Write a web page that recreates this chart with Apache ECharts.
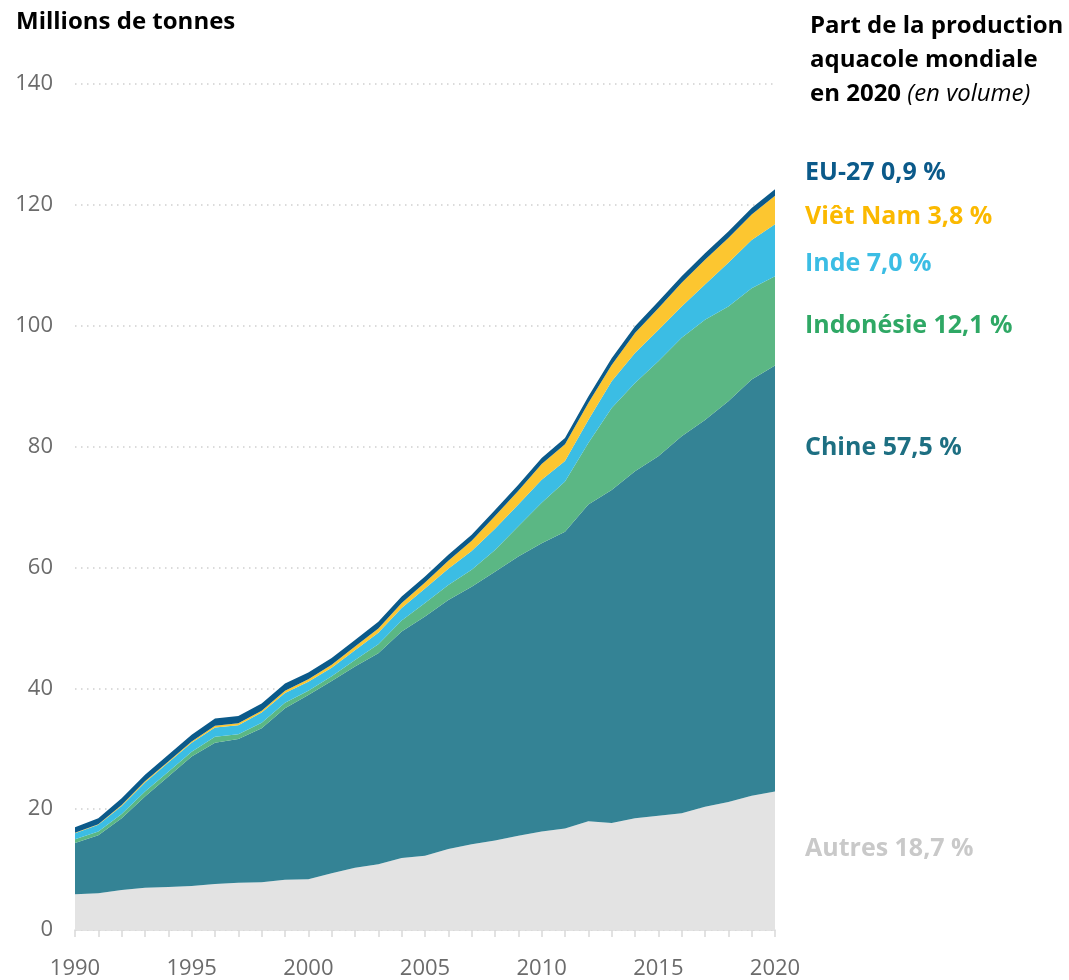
<!DOCTYPE html>
<html>
<head>
<meta charset="utf-8">
<script src="https://cdn.jsdelivr.net/npm/echarts@6/dist/echarts.min.js"></script>
<style>
  html, body { margin: 0; padding: 0; background: #ffffff; }
  #chart { width: 1069px; height: 980px; }
</style>
</head>
<body>
<div id="chart"></div>
<script>
// Aquaculture production by producer, millions of tonnes, 1990–2020
const years = [];
for (let y = 1990; y <= 2020; y++) years.push(String(y));

const autres = [5.9, 6.1, 6.6, 7.0, 7.1, 7.3, 7.6, 7.8, 7.9, 8.3, 8.4, 9.4, 10.3, 10.9, 11.9, 12.3,
  13.4, 14.2, 14.8, 15.6, 16.3, 16.8, 18.0, 17.7, 18.5, 18.9, 19.3, 20.4, 21.2, 22.2, 22.9];
const chine = [8.5, 9.6, 11.9, 15.1, 18.3, 21.4, 23.4, 23.8, 25.5, 28.4, 30.5, 31.8, 33.3, 34.9, 37.5, 39.6,
  41.2, 42.6, 44.5, 46.2, 47.7, 49.1, 52.4, 55.1, 57.4, 59.5, 62.4, 64.0, 66.3, 68.9, 70.5];
const indonesie = [0.6, 0.6, 0.7, 0.8, 0.8, 0.8, 1.0, 0.8, 0.9, 0.9, 0.7, 0.8, 1.1, 1.5, 1.8, 2.2,
  2.5, 2.8, 3.6, 5.0, 6.7, 8.3, 10.2, 13.6, 14.6, 15.7, 16.3, 16.6, 15.7, 15.1, 14.8];
const inde = [1.0, 1.1, 1.3, 1.5, 1.5, 1.5, 1.5, 1.5, 1.7, 1.6, 1.5, 1.4, 1.6, 1.9, 2.1, 2.4,
  2.7, 3.1, 3.5, 3.6, 3.8, 3.4, 3.8, 4.4, 5.0, 5.2, 5.2, 5.8, 7.2, 8.0, 8.6];
const vietnam = [0.1, 0.1, 0.2, 0.2, 0.2, 0.2, 0.3, 0.3, 0.3, 0.4, 0.4, 0.5, 0.6, 0.7, 0.8, 1.0,
  1.3, 1.7, 2.1, 2.3, 2.6, 2.8, 2.8, 2.7, 3.3, 3.6, 3.9, 4.1, 4.1, 4.2, 4.7];
const ue27 = [0.9, 1.0, 1.1, 1.1, 1.1, 1.1, 1.2, 1.2, 1.2, 1.2, 1.1, 1.1, 1.1, 1.1, 1.1, 1.0,
  1.0, 1.0, 1.0, 1.0, 1.0, 1.0, 1.1, 1.1, 1.1, 1.1, 1.1, 1.1, 1.1, 1.1, 1.1];

const seriesNames = ['Autres', 'Chine', 'Indonésie', 'Inde', 'Viêt Nam', 'EU-27'];
const seriesData = [autres, chine, indonesie, inde, vietnam, ue27];
const areaColors = ['#e3e3e3', '#348395', '#5bb784', '#3bbde4', '#fcc630', '#0b5a8a'];

// Shares in 2020, shown in the right-hand key
const shareLabels = ['Autres 18,7 %', 'Chine 57,5 %', 'Indonésie 12,1 %', 'Inde 7,0 %', 'Viêt Nam 3,8 %', 'EU-27 0,9 %'];
const labelColors = ['#c9c9c9', '#1d6f82', '#2fa865', '#3bbde4', '#fbb900', '#0b5a8a'];
const labelCenters = [849, 448, 326, 264, 217, 173];

const FONT = '"Open Sans", "Noto Sans", sans-serif';

const chart = echarts.init(document.getElementById('chart'), null, { renderer: 'canvas' });

const option = {
  backgroundColor: '#ffffff',
  animation: false,
  textStyle: { fontFamily: FONT },
  grid: { left: 75, right: 294, top: 84, bottom: 50, containLabel: false },
  xAxis: {
    type: 'category',
    data: years,
    boundaryGap: false,
    axisLine: { lineStyle: { color: '#d9d9d9', width: 1.5 } },
    axisTick: { show: true, interval: 0, length: 7, lineStyle: { color: '#d9d9d9', width: 1.5 } },
    axisLabel: {
      interval: 4, color: '#6b6b6b', fontSize: 22, fontFamily: FONT, margin: 28
    },
    splitLine: { show: false }
  },
  yAxis: {
    type: 'value',
    min: 0, max: 140, interval: 20,
    axisLine: { show: false },
    axisTick: { show: false },
    axisLabel: { color: '#6b6b6b', fontSize: 22, fontFamily: FONT, margin: 22 },
    splitLine: { show: true, lineStyle: { color: '#cfcfcf', width: 1.5, type: [1.5, 4.5] } }
  },
  series: seriesNames.map((name, i) => ({
    name: name,
    type: 'line',
    stack: 'total',
    data: seriesData[i],
    symbol: 'none',
    smooth: false,
    lineStyle: { width: 0 },
    areaStyle: { color: areaColors[i], opacity: 1 },
    emphasis: { disabled: true },
    z: 2
  })),
  title: [
    {
      text: 'Millions de tonnes',
      left: 11, top: 5,
      textStyle: { fontFamily: FONT, fontSize: 24, fontWeight: 'bold', color: '#000000' }
    },
    {
      text: '{b|Part de la production}\n{b|aquacole mondiale}\n{b|en 2020 }{i|(en volume)}',
      left: 805, top: 4,
      textStyle: {
        rich: {
          b: { fontFamily: FONT, fontSize: 24, fontWeight: 'bold', color: '#000000', lineHeight: 34 },
          i: { fontFamily: FONT, fontSize: 24, fontStyle: 'italic', fontWeight: 'normal', color: '#000000', lineHeight: 34 }
        }
      }
    }
  ],
  graphic: shareLabels.map((t, i) => ({
    type: 'text',
    x: 805,
    y: labelCenters[i],
    style: {
      text: t,
      fill: labelColors[i],
      font: 'bold 25px ' + FONT,
      verticalAlign: 'middle'
    }
  }))
};

chart.setOption(option);
</script>
</body>
</html>
